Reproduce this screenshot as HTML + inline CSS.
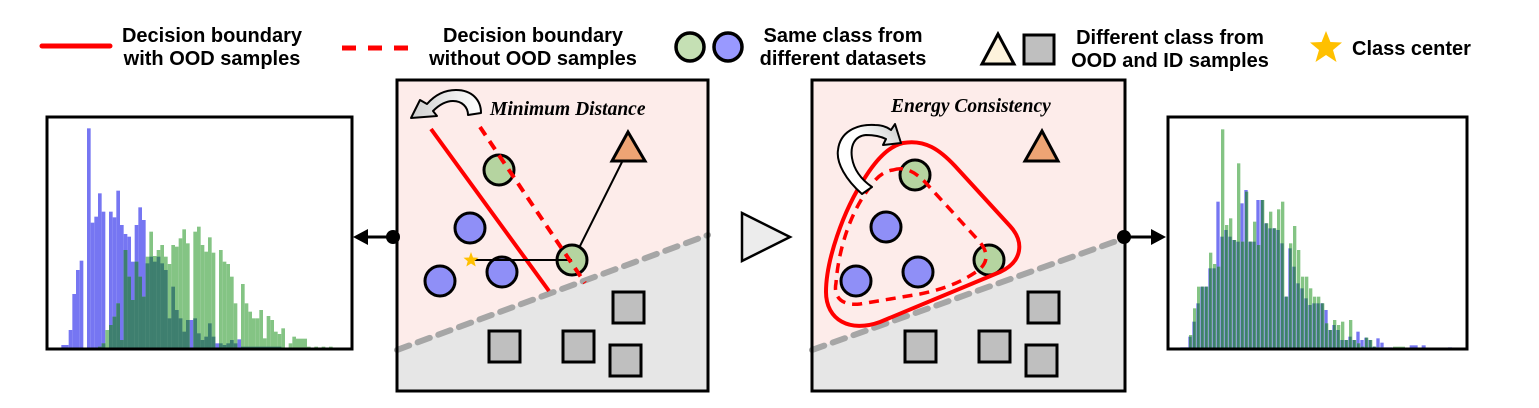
<!DOCTYPE html>
<html><head><meta charset="utf-8"><style>
html,body{margin:0;padding:0;background:#fff;}
svg{display:block;}
.b{fill:#7676f2}.g{fill:#84c484}.d{fill:#3e7f6f}
.lt{font-family:"Liberation Sans",sans-serif;font-weight:bold;font-size:20px;fill:#000;}
.it{font-family:"Liberation Serif",serif;font-weight:bold;font-style:italic;font-size:19.5px;fill:#000;}
</style></head><body>
<svg width="1539" height="408" viewBox="0 0 1539 408" xmlns="http://www.w3.org/2000/svg">
<defs>
<linearGradient id="ga" x1="1" y1="0" x2="0" y2="0"><stop offset="0" stop-color="#fff"/><stop offset="1" stop-color="#cfcfcf"/></linearGradient>
<linearGradient id="gb" x1="0" y1="1" x2="1" y2="0"><stop offset="0" stop-color="#fff"/><stop offset="0.6" stop-color="#fff"/><stop offset="1" stop-color="#c8c8c8"/></linearGradient>
</defs>
<rect width="1539" height="408" fill="#fff"/>

<!-- Legend -->
<line x1="42" y1="46" x2="110" y2="46" stroke="#f00" stroke-width="5" stroke-linecap="round"/>
<text class="lt" x="212" y="42" text-anchor="middle">Decision boundary</text>
<text class="lt" x="212" y="65" text-anchor="middle">with OOD samples</text>
<line x1="342" y1="48" x2="410" y2="48" stroke="#f00" stroke-width="5" stroke-dasharray="14 12"/>
<text class="lt" x="533" y="42" text-anchor="middle">Decision boundary</text>
<text class="lt" x="533" y="65" text-anchor="middle">without OOD samples</text>
<circle cx="690" cy="47" r="14" fill="#c5e0b4" stroke="#000" stroke-width="3.5"/>
<circle cx="728" cy="47" r="14" fill="#9999ff" stroke="#000" stroke-width="3.5"/>
<text class="lt" x="843" y="42" text-anchor="middle">Same class from</text>
<text class="lt" x="843" y="65" text-anchor="middle">different datasets</text>
<polygon points="998,34 982,64 1014,64" fill="#fdf3dc" stroke="#000" stroke-width="3"/>
<rect x="1024" y="35" width="30" height="29" fill="#bfbfbf" stroke="#000" stroke-width="3"/>
<text class="lt" x="1170" y="44" text-anchor="middle">Different class from</text>
<text class="lt" x="1170" y="67" text-anchor="middle">OOD and ID samples</text>
<polygon points="1326,31 1330.4,42 1342,42.5 1333,50 1336.5,62 1326,55 1315.5,62 1319,50 1310,42.5 1321.6,42" fill="#ffc000"/>
<text class="lt" x="1352" y="55">Class center</text>

<!-- Left histogram -->
<g transform="translate(40,110) scale(0.33333)">
<rect class="b" x="64" y="705" width="22" height="13"/><rect class="b" x="86" y="660" width="11" height="58"/><rect class="b" x="97" y="552" width="11" height="166"/><rect class="b" x="108" y="480" width="11" height="238"/><rect class="b" x="119" y="452" width="11" height="266"/><rect class="b" x="141" y="55" width="11" height="663"/><rect class="b" x="152" y="338" width="11" height="380"/><rect class="b" x="163" y="320" width="11" height="398"/><rect class="b" x="174" y="250" width="11" height="468"/><rect class="b" x="185" y="305" width="11" height="413"/><rect class="b" x="207" y="305" width="11" height="413"/><rect class="b" x="218" y="322" width="11" height="396"/><rect class="b" x="229" y="242" width="11" height="476"/><rect class="b" x="240" y="345" width="11" height="373"/><rect class="b" x="251" y="372" width="11" height="346"/><rect class="b" x="262" y="380" width="11" height="338"/><rect class="b" x="273" y="455" width="11" height="263"/><rect class="b" x="284" y="345" width="11" height="373"/><rect class="b" x="295" y="292" width="11" height="426"/><rect class="b" x="306" y="330" width="11" height="388"/><rect class="b" x="317" y="460" width="11" height="258"/><rect class="b" x="328" y="440" width="11" height="278"/><rect class="b" x="339" y="455" width="11" height="263"/><rect class="b" x="350" y="440" width="11" height="278"/><rect class="b" x="361" y="460" width="11" height="258"/><rect class="b" x="372" y="480" width="11" height="238"/><rect class="b" x="383" y="625" width="11" height="93"/><rect class="b" x="394" y="530" width="11" height="188"/><rect class="b" x="405" y="600" width="11" height="118"/><rect class="b" x="416" y="625" width="11" height="93"/><rect class="b" x="427" y="665" width="11" height="53"/><rect class="b" x="438" y="630" width="11" height="88"/><rect class="b" x="449" y="630" width="11" height="88"/><rect class="b" x="460" y="625" width="11" height="93"/><rect class="b" x="471" y="670" width="11" height="48"/><rect class="b" x="482" y="690" width="11" height="28"/><rect class="b" x="493" y="680" width="11" height="38"/><rect class="b" x="504" y="640" width="11" height="78"/><rect class="b" x="515" y="680" width="11" height="38"/><rect class="b" x="526" y="700" width="11" height="18"/><rect class="b" x="537" y="700" width="11" height="18"/><rect class="b" x="548" y="705" width="11" height="13"/><rect class="b" x="559" y="700" width="11" height="18"/><rect class="b" x="570" y="690" width="11" height="28"/><rect class="b" x="581" y="700" width="11" height="18"/><rect class="b" x="592" y="688" width="11" height="30"/><rect class="b" x="603" y="710" width="121" height="8"/>
<rect class="g" x="174" y="710" width="11" height="8"/><rect class="g" x="185" y="700" width="11" height="18"/><rect class="g" x="196" y="660" width="11" height="58"/><rect class="g" x="207" y="645" width="11" height="73"/><rect class="g" x="218" y="620" width="11" height="98"/><rect class="g" x="229" y="580" width="11" height="138"/><rect class="g" x="240" y="690" width="11" height="28"/><rect class="g" x="251" y="420" width="11" height="298"/><rect class="g" x="262" y="500" width="11" height="218"/><rect class="g" x="273" y="570" width="11" height="148"/><rect class="g" x="284" y="455" width="11" height="263"/><rect class="g" x="295" y="500" width="11" height="218"/><rect class="g" x="306" y="560" width="11" height="158"/><rect class="g" x="317" y="440" width="11" height="278"/><rect class="g" x="328" y="365" width="11" height="353"/><rect class="g" x="339" y="438" width="11" height="280"/><rect class="g" x="350" y="420" width="11" height="298"/><rect class="g" x="361" y="405" width="11" height="313"/><rect class="g" x="372" y="440" width="11" height="278"/><rect class="g" x="383" y="462" width="11" height="256"/><rect class="g" x="394" y="405" width="11" height="313"/><rect class="g" x="405" y="410" width="11" height="308"/><rect class="g" x="416" y="385" width="11" height="333"/><rect class="g" x="427" y="358" width="11" height="360"/><rect class="g" x="438" y="400" width="11" height="318"/><rect class="g" x="460" y="365" width="11" height="353"/><rect class="g" x="471" y="350" width="11" height="368"/><rect class="g" x="482" y="405" width="11" height="313"/><rect class="g" x="493" y="425" width="11" height="293"/><rect class="g" x="504" y="382" width="11" height="336"/><rect class="g" x="515" y="428" width="11" height="290"/><rect class="g" x="537" y="420" width="11" height="298"/><rect class="g" x="548" y="455" width="11" height="263"/><rect class="g" x="559" y="462" width="11" height="256"/><rect class="g" x="570" y="500" width="11" height="218"/><rect class="g" x="581" y="580" width="11" height="138"/><rect class="g" x="603" y="522" width="11" height="196"/><rect class="g" x="614" y="580" width="11" height="138"/><rect class="g" x="625" y="605" width="11" height="113"/><rect class="g" x="636" y="625" width="11" height="93"/><rect class="g" x="647" y="625" width="11" height="93"/><rect class="g" x="658" y="600" width="11" height="118"/><rect class="g" x="669" y="685" width="11" height="33"/><rect class="g" x="680" y="618" width="11" height="100"/><rect class="g" x="691" y="630" width="11" height="88"/><rect class="g" x="702" y="665" width="11" height="53"/><rect class="g" x="713" y="672" width="11" height="46"/><rect class="g" x="724" y="655" width="11" height="63"/><rect class="g" x="746" y="700" width="11" height="18"/><rect class="g" x="757" y="680" width="11" height="38"/><rect class="g" x="768" y="686" width="33" height="32"/><rect class="g" x="801" y="710" width="11" height="8"/><rect class="g" x="823" y="710" width="11" height="8"/><rect class="g" x="845" y="710" width="11" height="8"/><rect class="g" x="867" y="710" width="11" height="8"/>
<rect class="d" x="174" y="710" width="11" height="8"/><rect class="d" x="185" y="700" width="11" height="18"/><rect class="d" x="207" y="645" width="11" height="73"/><rect class="d" x="218" y="620" width="11" height="98"/><rect class="d" x="229" y="580" width="11" height="138"/><rect class="d" x="240" y="690" width="11" height="28"/><rect class="d" x="251" y="420" width="11" height="298"/><rect class="d" x="262" y="500" width="11" height="218"/><rect class="d" x="273" y="570" width="11" height="148"/><rect class="d" x="284" y="455" width="11" height="263"/><rect class="d" x="295" y="500" width="11" height="218"/><rect class="d" x="306" y="560" width="11" height="158"/><rect class="d" x="317" y="460" width="11" height="258"/><rect class="d" x="328" y="440" width="11" height="278"/><rect class="d" x="339" y="455" width="11" height="263"/><rect class="d" x="350" y="440" width="11" height="278"/><rect class="d" x="361" y="460" width="11" height="258"/><rect class="d" x="372" y="480" width="11" height="238"/><rect class="d" x="383" y="625" width="11" height="93"/><rect class="d" x="394" y="530" width="11" height="188"/><rect class="d" x="405" y="600" width="11" height="118"/><rect class="d" x="416" y="625" width="11" height="93"/><rect class="d" x="427" y="665" width="11" height="53"/><rect class="d" x="438" y="630" width="11" height="88"/><rect class="d" x="460" y="625" width="11" height="93"/><rect class="d" x="471" y="670" width="11" height="48"/><rect class="d" x="482" y="690" width="11" height="28"/><rect class="d" x="493" y="680" width="11" height="38"/><rect class="d" x="504" y="640" width="11" height="78"/><rect class="d" x="515" y="680" width="11" height="38"/><rect class="d" x="537" y="700" width="11" height="18"/><rect class="d" x="548" y="705" width="11" height="13"/><rect class="d" x="559" y="700" width="11" height="18"/><rect class="d" x="570" y="690" width="11" height="28"/><rect class="d" x="581" y="700" width="11" height="18"/><rect class="d" x="603" y="710" width="121" height="8"/>
</g>
<rect x="47" y="117" width="305" height="232" fill="none" stroke="#000" stroke-width="3"/>

<!-- Right histogram -->
<g transform="translate(1110,110) scale(0.33333)">
<rect class="b" x="211" y="712" width="24" height="6"/>
<rect class="b" x="235" y="680" width="10" height="38"/><rect class="b" x="247" y="635" width="10" height="83"/><rect class="b" x="259" y="580" width="10" height="138"/><rect class="b" x="271" y="530" width="10" height="188"/><rect class="b" x="283" y="530" width="10" height="188"/><rect class="b" x="295" y="475" width="10" height="243"/><rect class="b" x="307" y="475" width="10" height="243"/><rect class="b" x="319" y="275" width="10" height="443"/><rect class="b" x="331" y="380" width="10" height="338"/><rect class="b" x="343" y="360" width="10" height="358"/><rect class="b" x="355" y="380" width="10" height="338"/><rect class="b" x="367" y="390" width="10" height="328"/><rect class="b" x="379" y="395" width="10" height="323"/><rect class="b" x="391" y="280" width="10" height="438"/><rect class="b" x="403" y="240" width="10" height="478"/><rect class="b" x="415" y="395" width="10" height="323"/><rect class="b" x="427" y="395" width="10" height="323"/><rect class="b" x="439" y="270" width="10" height="448"/><rect class="b" x="451" y="270" width="10" height="448"/><rect class="b" x="463" y="340" width="10" height="378"/><rect class="b" x="475" y="355" width="10" height="363"/><rect class="b" x="487" y="355" width="10" height="363"/><rect class="b" x="499" y="360" width="10" height="358"/><rect class="b" x="511" y="400" width="10" height="318"/><rect class="b" x="523" y="560" width="10" height="158"/><rect class="b" x="535" y="415" width="10" height="303"/><rect class="b" x="547" y="470" width="10" height="248"/><rect class="b" x="559" y="520" width="10" height="198"/><rect class="b" x="571" y="535" width="10" height="183"/><rect class="b" x="583" y="565" width="10" height="153"/><rect class="b" x="595" y="585" width="10" height="133"/><rect class="b" x="607" y="580" width="10" height="138"/><rect class="b" x="619" y="580" width="10" height="138"/><rect class="b" x="631" y="580" width="10" height="138"/><rect class="b" x="643" y="600" width="10" height="118"/><rect class="b" x="655" y="660" width="10" height="58"/><rect class="b" x="667" y="645" width="10" height="73"/><rect class="b" x="679" y="660" width="10" height="58"/><rect class="b" x="691" y="690" width="10" height="28"/><rect class="b" x="703" y="690" width="10" height="28"/><rect class="b" x="715" y="680" width="10" height="38"/><rect class="b" x="727" y="690" width="10" height="28"/><rect class="b" x="739" y="665" width="10" height="53"/><rect class="b" x="751" y="690" width="10" height="28"/><rect class="b" x="763" y="683" width="10" height="35"/><rect class="b" x="775" y="690" width="10" height="28"/><rect class="b" x="787" y="710" width="10" height="8"/><rect class="b" x="799" y="685" width="10" height="33"/><rect class="b" x="811" y="698" width="10" height="20"/><rect class="b" x="823" y="712" width="24" height="6"/><rect class="b" x="899" y="706" width="24" height="12"/><rect class="b" x="935" y="706" width="12" height="12"/><rect class="b" x="1014" y="712" width="12" height="6"/>
<rect class="g" x="237" y="675" width="10" height="43"/><rect class="g" x="249" y="595" width="10" height="123"/><rect class="g" x="261" y="530" width="10" height="188"/><rect class="g" x="273" y="530" width="10" height="188"/><rect class="g" x="285" y="530" width="10" height="188"/><rect class="g" x="297" y="428" width="10" height="290"/><rect class="g" x="309" y="462" width="10" height="256"/><rect class="g" x="321" y="470" width="10" height="248"/><rect class="g" x="333" y="58" width="10" height="660"/><rect class="g" x="345" y="345" width="10" height="373"/><rect class="g" x="357" y="325" width="10" height="393"/><rect class="g" x="369" y="390" width="10" height="328"/><rect class="g" x="381" y="160" width="10" height="558"/><rect class="g" x="393" y="395" width="10" height="323"/><rect class="g" x="405" y="245" width="10" height="473"/><rect class="g" x="417" y="395" width="10" height="323"/><rect class="g" x="429" y="335" width="10" height="383"/><rect class="g" x="441" y="405" width="10" height="313"/><rect class="g" x="453" y="270" width="10" height="448"/><rect class="g" x="465" y="340" width="10" height="378"/><rect class="g" x="477" y="305" width="10" height="413"/><rect class="g" x="489" y="355" width="10" height="363"/><rect class="g" x="501" y="298" width="10" height="420"/><rect class="g" x="513" y="275" width="10" height="443"/><rect class="g" x="525" y="560" width="10" height="158"/><rect class="g" x="537" y="400" width="10" height="318"/><rect class="g" x="549" y="348" width="10" height="370"/><rect class="g" x="561" y="420" width="10" height="298"/><rect class="g" x="573" y="500" width="10" height="218"/><rect class="g" x="585" y="500" width="10" height="218"/><rect class="g" x="597" y="535" width="10" height="183"/><rect class="g" x="609" y="560" width="10" height="158"/><rect class="g" x="621" y="560" width="10" height="158"/><rect class="g" x="633" y="580" width="10" height="138"/><rect class="g" x="645" y="640" width="10" height="78"/><rect class="g" x="657" y="660" width="10" height="58"/><rect class="g" x="669" y="630" width="10" height="88"/><rect class="g" x="681" y="645" width="10" height="73"/><rect class="g" x="693" y="635" width="10" height="83"/><rect class="g" x="705" y="690" width="10" height="28"/><rect class="g" x="717" y="630" width="10" height="88"/><rect class="g" x="729" y="690" width="10" height="28"/><rect class="g" x="741" y="700" width="10" height="18"/><rect class="g" x="753" y="710" width="10" height="8"/><rect class="g" x="765" y="683" width="10" height="35"/><rect class="g" x="777" y="690" width="10" height="28"/><rect class="g" x="789" y="710" width="10" height="8"/><rect class="g" x="801" y="712" width="10" height="6"/><rect class="g" x="813" y="712" width="10" height="6"/><rect class="g" x="849" y="710" width="36" height="8"/>
<rect class="d" x="237" y="680" width="8" height="38"/><rect class="d" x="249" y="635" width="8" height="83"/><rect class="d" x="261" y="580" width="8" height="138"/><rect class="d" x="273" y="530" width="8" height="188"/><rect class="d" x="285" y="530" width="8" height="188"/><rect class="d" x="297" y="475" width="8" height="243"/><rect class="d" x="309" y="475" width="8" height="243"/><rect class="d" x="321" y="470" width="8" height="248"/><rect class="d" x="333" y="380" width="8" height="338"/><rect class="d" x="345" y="360" width="8" height="358"/><rect class="d" x="357" y="380" width="8" height="338"/><rect class="d" x="369" y="390" width="8" height="328"/><rect class="d" x="381" y="395" width="8" height="323"/><rect class="d" x="393" y="395" width="8" height="323"/><rect class="d" x="405" y="245" width="8" height="473"/><rect class="d" x="417" y="395" width="8" height="323"/><rect class="d" x="429" y="395" width="8" height="323"/><rect class="d" x="441" y="405" width="8" height="313"/><rect class="d" x="453" y="270" width="8" height="448"/><rect class="d" x="465" y="340" width="8" height="378"/><rect class="d" x="477" y="355" width="8" height="363"/><rect class="d" x="489" y="355" width="8" height="363"/><rect class="d" x="501" y="360" width="8" height="358"/><rect class="d" x="513" y="400" width="8" height="318"/><rect class="d" x="525" y="560" width="8" height="158"/><rect class="d" x="537" y="415" width="8" height="303"/><rect class="d" x="549" y="470" width="8" height="248"/><rect class="d" x="561" y="520" width="8" height="198"/><rect class="d" x="573" y="535" width="8" height="183"/><rect class="d" x="585" y="565" width="8" height="153"/><rect class="d" x="597" y="585" width="8" height="133"/><rect class="d" x="609" y="580" width="8" height="138"/><rect class="d" x="621" y="580" width="8" height="138"/><rect class="d" x="633" y="580" width="8" height="138"/><rect class="d" x="645" y="640" width="8" height="78"/><rect class="d" x="657" y="660" width="8" height="58"/><rect class="d" x="669" y="645" width="8" height="73"/><rect class="d" x="681" y="660" width="8" height="58"/><rect class="d" x="693" y="690" width="8" height="28"/><rect class="d" x="705" y="690" width="8" height="28"/><rect class="d" x="717" y="680" width="8" height="38"/><rect class="d" x="729" y="690" width="8" height="28"/><rect class="d" x="741" y="700" width="8" height="18"/><rect class="d" x="753" y="710" width="8" height="8"/><rect class="d" x="765" y="683" width="8" height="35"/><rect class="d" x="777" y="690" width="8" height="28"/><rect class="d" x="789" y="710" width="8" height="8"/>
</g>
<rect x="1168" y="117" width="299" height="232" fill="none" stroke="#000" stroke-width="3"/>

<!-- Connectors -->
<line x1="393" y1="237" x2="364" y2="237" stroke="#000" stroke-width="3"/>
<polygon points="353,237 368,229 368,245" fill="#000"/>
<line x1="1124" y1="237" x2="1154" y2="237" stroke="#000" stroke-width="3"/>
<polygon points="1166,237 1151,229 1151,245" fill="#000"/>
<polygon points="742,213 790,237 742,261" fill="#ececec" stroke="#000" stroke-width="2.5" stroke-linejoin="miter"/>

<!-- Left middle box -->
<rect x="397" y="80" width="311" height="311" fill="#fdecea"/>
<polygon points="397,350 708,235 708,391 397,391" fill="#e6e6e6"/>
<line x1="397" y1="350" x2="708" y2="235" stroke="#a6a6a6" stroke-width="6" stroke-dasharray="13 9" stroke-linecap="round"/>
<line x1="431" y1="129" x2="549" y2="291" stroke="#f00" stroke-width="4"/>
<line x1="573" y1="260" x2="628" y2="150" stroke="#000" stroke-width="2"/>
<circle cx="499" cy="170" r="15" fill="#b5d4a0" stroke="#000" stroke-width="3"/>
<circle cx="470" cy="228" r="15" fill="#8f8ff7" stroke="#000" stroke-width="3"/>
<circle cx="440" cy="281" r="15" fill="#8f8ff7" stroke="#000" stroke-width="3"/>
<circle cx="502" cy="272" r="15" fill="#8f8ff7" stroke="#000" stroke-width="3"/>
<circle cx="572" cy="260" r="15" fill="#b5d4a0" stroke="#000" stroke-width="3"/>
<line x1="471" y1="260" x2="572" y2="260" stroke="#000" stroke-width="2"/>
<line x1="480" y1="127" x2="585" y2="283" stroke="#f00" stroke-width="4" stroke-dasharray="10 7"/>
<polygon points="471,252 473,257.5 478.5,257.8 474.3,261.3 475.7,266.5 471,263.5 466.3,266.5 467.7,261.3 463.5,257.8 469,257.5" fill="#ffc000"/>
<polygon points="628,132 612,161 645,161" fill="#eda474" stroke="#000" stroke-width="3"/>
<path d="M481,113 C481,100 472,90 456,90 C444,90 434,96 427,104 L420,100 L411,118 L437,116 L433,111 C440,104 446,101 453,101 C462,101 468,107 468,115 Z" fill="url(#ga)" stroke="#000" stroke-width="2" stroke-linejoin="round"/>
<text class="it" x="490" y="115">Minimum Distance</text>
<rect x="397" y="80" width="311" height="311" fill="none" stroke="#000" stroke-width="3"/>
<rect x="613" y="292" width="31" height="31" fill="#bfbfbf" stroke="#000" stroke-width="3"/>
<rect x="489" y="331" width="31" height="31" fill="#bfbfbf" stroke="#000" stroke-width="3"/>
<rect x="563" y="331" width="31" height="31" fill="#bfbfbf" stroke="#000" stroke-width="3"/>
<rect x="610" y="345" width="31" height="31" fill="#bfbfbf" stroke="#000" stroke-width="3"/>

<!-- Right middle box -->
<rect x="812" y="80" width="313" height="311" fill="#fdecea"/>
<polygon points="812,350 1125,238 1125,391 812,391" fill="#e6e6e6"/>
<line x1="812" y1="350" x2="1125" y2="238" stroke="#a6a6a6" stroke-width="6" stroke-dasharray="13 9" stroke-linecap="round"/>
<circle cx="915" cy="175" r="15" fill="#b5d4a0" stroke="#000" stroke-width="3"/>
<circle cx="886" cy="227" r="15" fill="#8f8ff7" stroke="#000" stroke-width="3"/>
<circle cx="856" cy="281" r="15" fill="#8f8ff7" stroke="#000" stroke-width="3"/>
<circle cx="918" cy="272" r="15" fill="#8f8ff7" stroke="#000" stroke-width="3"/>
<circle cx="989" cy="260" r="15" fill="#b5d4a0" stroke="#000" stroke-width="3"/>
<path d="M903,143 C925,139 940,150 955,166 L1010,226 C1025,242 1022,262 1000,272 L880,322 C850,333 826,320 826,292 C826,262 842,212 866,176 C877,159 889,146 903,143 Z" fill="none" stroke="#f00" stroke-width="4"/>
<path d="M893,170 C905,166 915,172 925,182 L978,240 C990,253 988,264 976,272 C958,284 940,290 920,294 L860,304 C843,306 833,298 836,283 C838,255 848,215 870,187 C877,176 885,171 893,170 Z" fill="none" stroke="#f00" stroke-width="3.5" stroke-dasharray="10 7"/>
<polygon points="1042,131 1025,161 1058,161" fill="#eda474" stroke="#000" stroke-width="3"/>
<path d="M862,194 C846,180 836,163 838,150 C840,132 856,124 875,125 C882,125 887,127 891,130 L895,124 L901,143 L883,145 L886,139 C880,136 873,135 866,135 C855,136 850,145 852,158 C854,170 862,180 872,187 Z" fill="url(#gb)" stroke="#000" stroke-width="2" stroke-linejoin="round"/>
<text class="it" x="891" y="112">Energy Consistency</text>
<rect x="812" y="80" width="313" height="311" fill="none" stroke="#000" stroke-width="3"/>
<rect x="1028" y="292" width="31" height="31" fill="#bfbfbf" stroke="#000" stroke-width="3"/>
<rect x="905" y="331" width="31" height="31" fill="#bfbfbf" stroke="#000" stroke-width="3"/>
<rect x="979" y="331" width="31" height="31" fill="#bfbfbf" stroke="#000" stroke-width="3"/>
<rect x="1026" y="345" width="31" height="31" fill="#bfbfbf" stroke="#000" stroke-width="3"/>

<circle cx="1124" cy="237" r="7" fill="#000"/>
<circle cx="393" cy="237" r="7" fill="#000"/>
</svg>
</body></html>
